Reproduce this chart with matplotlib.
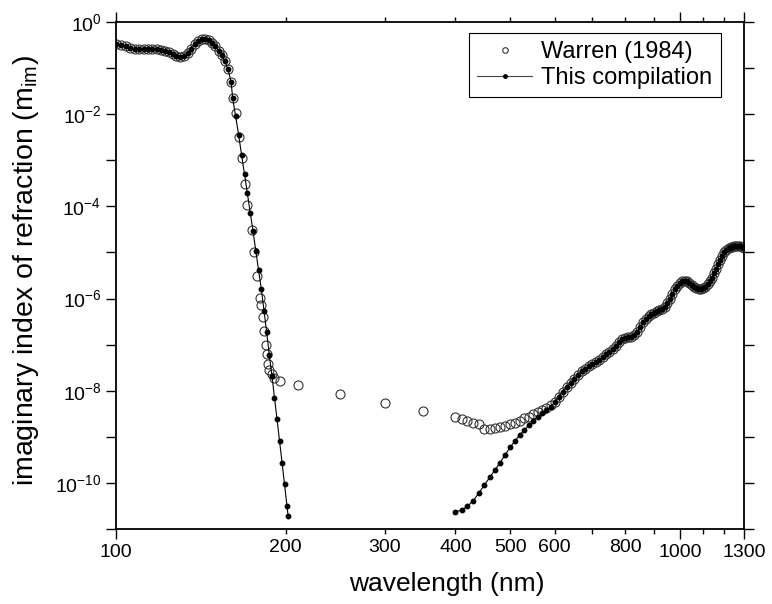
import numpy as np
import matplotlib.pyplot as plt
from matplotlib.lines import Line2D
from matplotlib.ticker import FixedLocator, FuncFormatter

plt.rcParams['font.family'] = ['Liberation Sans', 'DejaVu Sans']
plt.rcParams['mathtext.fontset'] = 'custom'
plt.rcParams['mathtext.rm'] = 'Liberation Sans'
plt.rcParams['mathtext.it'] = 'Liberation Sans:italic'

# values, as log10(m_im)
# far UV, both sources overlap (2 nm steps)
uv_wl = list(range(100, 161, 2))
uv_log = [-0.48, -0.50, -0.52, -0.57, -0.58, -0.59, -0.59, -0.59, -0.59, -0.59,
          -0.60, -0.62, -0.65, -0.69, -0.73, -0.75, -0.73, -0.67, -0.58, -0.48,
          -0.41, -0.37, -0.36, -0.39, -0.45, -0.53, -0.62, -0.72, -0.85, -1.03,
          -1.30]

# UV fall-off
comp_tail_wl = [161, 163, 165, 167, 169, 171, 173, 175, 177, 179, 181, 183,
                185, 187, 189, 191, 193, 195, 197, 199, 201, 202]
comp_tail_log = [-1.65, -2.05, -2.45, -2.89, -3.30, -3.72, -4.14, -4.54, -4.97,
                 -5.39, -5.79, -6.26, -6.73, -7.22, -7.67, -8.15, -8.62, -9.09,
                 -9.56, -10.03, -10.50, -10.72]
warren_tail_wl = [161, 163, 165, 167, 169, 171, 174, 176, 178, 180, 181, 182,
                  183, 184.5, 185, 186, 187, 189, 191, 195, 210, 250, 300, 350]
warren_tail_log = [-1.65, -1.98, -2.49, -2.96, -3.51, -3.98, -4.52, -4.99, -5.52,
                   -5.99, -6.15, -6.39, -6.70, -7.01, -7.20, -7.42, -7.55, -7.64,
                   -7.73, -7.80, -7.88, -8.07, -8.27, -8.43]

# visible, 400-590 nm
vis_wl = list(range(400, 600, 10))
warren_vis_log = [-8.58, -8.62, -8.65, -8.69, -8.72, -8.83, -8.83, -8.81, -8.79,
                  -8.77, -8.72, -8.70, -8.65, -8.60, -8.56, -8.51, -8.46, -8.42,
                  -8.38, -8.32]
comp_vis_log = [-10.63, -10.59, -10.51, -10.39, -10.22, -10.05, -9.88, -9.72,
                -9.56, -9.39, -9.23, -9.09, -8.96, -8.85, -8.75, -8.65, -8.57,
                -8.49, -8.42, -8.35]

# red / near IR, both sources overlap
nir_wl = list(range(600, 1301, 10))
nir_log = [-8.25, -8.13, -8.02, -7.92, -7.83, -7.74, -7.65, -7.58, -7.52, -7.47,
           -7.42, -7.38, -7.33, -7.27, -7.21, -7.15, -7.09, -7.02, -6.95, -6.88,
           -6.85, -6.84, -6.83, -6.80, -6.72, -6.62, -6.52, -6.44, -6.38, -6.34,
           -6.31, -6.28, -6.25, -6.22, -6.18, -6.10, -6.00, -5.90, -5.80, -5.72,
           -5.66, -5.62, -5.61, -5.62, -5.66, -5.71, -5.75, -5.78, -5.79, -5.79,
           -5.77, -5.74, -5.69, -5.63, -5.55, -5.45, -5.35, -5.26, -5.17, -5.08,
           -5.00, -4.95, -4.91, -4.89, -4.88, -4.87, -4.87, -4.87, -4.87, -4.88,
           -4.90]

warren_wl = uv_wl + warren_tail_wl + vis_wl + nir_wl
warren_k = 10.0 ** np.array(uv_log + warren_tail_log + warren_vis_log + nir_log)

comp_uv_wl = uv_wl + comp_tail_wl
comp_uv_k = 10.0 ** np.array(uv_log + comp_tail_log)
comp_ir_wl = vis_wl + nir_wl
comp_ir_k = 10.0 ** np.array(comp_vis_log + nir_log)

x_labels = {100: '100', 200: '200', 300: '300', 400: '400', 500: '500',
            600: '600', 800: '800', 1000: '1000', 1300: '1300'}

fig = plt.figure(figsize=(7.72, 6.04), dpi=100)
ax = fig.add_axes([0.1503, 0.1242, 0.8135, 0.8394])

ax.plot(warren_wl, warren_k, linestyle='none', marker='o', ms=6.5,
        mfc='none', mec='#333333', mew=0.8, zorder=2)
for wl, k in [(comp_uv_wl, comp_uv_k), (comp_ir_wl, comp_ir_k)]:
    ax.plot(wl, k, color='black', lw=0.8, marker='o', ms=3.2,
            mfc='black', mec='black', zorder=3)

ax.set_xscale('log')
ax.set_yscale('log')
ax.set_xlim(100, 1300)
ax.set_ylim(1e-11, 1)

ax.xaxis.set_major_locator(FixedLocator([100, 1000, 1300]))
ax.xaxis.set_minor_locator(FixedLocator([200, 300, 400, 500, 600, 700, 800, 900, 1100, 1200]))
fmt = FuncFormatter(lambda v, p: x_labels.get(int(round(v)), ''))
ax.xaxis.set_major_formatter(fmt)
ax.xaxis.set_minor_formatter(fmt)

ax.yaxis.set_major_locator(FixedLocator([10.0 ** e for e in range(-11, 1)]))
ax.yaxis.set_minor_locator(FixedLocator([]))
ax.yaxis.set_major_formatter(FuncFormatter(
    lambda v, p: (r'$10^{%d}$' % round(np.log10(v))) if round(np.log10(v)) % 2 == 0 else ''))

ax.tick_params(which='both', direction='out', top=True, right=True, width=1.0,
               labelsize=14, colors='black')
ax.tick_params(which='major', length=7)
ax.tick_params(which='minor', length=3.5)
ax.tick_params(axis='x', pad=4)
for s in ax.spines.values():
    s.set_linewidth(1.3)

ax.set_xlabel('wavelength (nm)', fontsize=19)
ax.xaxis.set_label_coords(0.527, -0.085)
ax.set_ylabel(r'imaginary index of refraction (m$_{\mathrm{im}}$)', fontsize=20.5)
ax.yaxis.set_label_coords(-0.12, 0.51)

handles = [Line2D([], [], linestyle='none', marker='o', ms=4, mfc='none',
                  mec='#333333', mew=0.8),
           Line2D([], [], color='#444444', lw=0.8, marker='o', ms=2.5,
                  mfc='black', mec='black')]
leg = ax.legend(handles, ['Warren (1984)', 'This compilation'], loc='upper right',
                bbox_to_anchor=(0.963, 0.978), borderaxespad=0, fontsize=17,
                fancybox=False, framealpha=1, edgecolor='black', handlelength=2.35,
                handletextpad=0.38, labelspacing=0.15, borderpad=0.35)
leg.get_frame().set_linewidth(0.8)

fig.savefig('out.png', dpi=100)
